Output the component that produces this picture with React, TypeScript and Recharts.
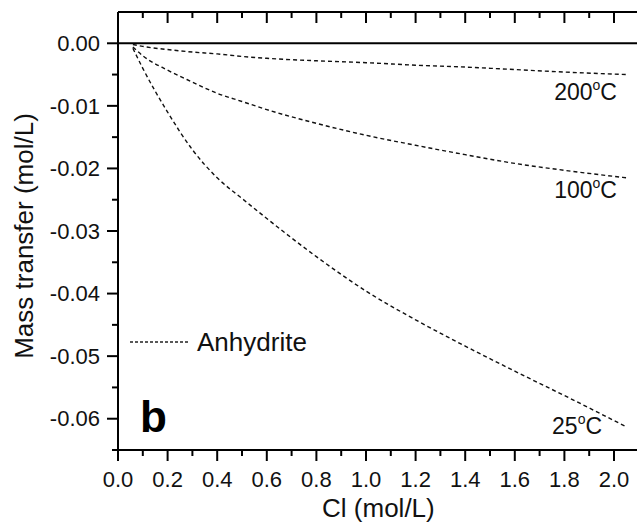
import React from "react";
import {
  LineChart,
  Line,
  XAxis,
  YAxis,
  ReferenceLine,
  ReferenceDot,
  Legend,
} from "recharts";

// Cl concentration (mol/L) and anhydrite mass transfer (mol/L)
const clValues = [0.06, 0.1, 0.2, 0.3, 0.4, 0.5, 0.6, 0.8, 1.0, 1.2, 1.4, 1.6, 1.8, 2.05];
const anhydrite25 = [
  -0.0008, -0.004, -0.011, -0.017, -0.0215, -0.0248, -0.028, -0.0341, -0.0396, -0.0442,
  -0.0484, -0.0524, -0.0563, -0.0613,
];
const anhydrite100 = [
  -0.0006, -0.002, -0.0043, -0.0062, -0.008, -0.0093, -0.0106, -0.0128, -0.0147, -0.0163,
  -0.0178, -0.0192, -0.0203, -0.0215,
];
const anhydrite200 = [
  -0.0002, -0.0005, -0.001, -0.0014, -0.0017, -0.0021, -0.0024, -0.0028, -0.0031, -0.0035,
  -0.0038, -0.0042, -0.0046, -0.005,
];

const xTicks = [
  0, 0.1, 0.2, 0.3, 0.4, 0.5, 0.6, 0.7, 0.8, 0.9, 1.0, 1.1, 1.2, 1.3, 1.4, 1.5, 1.6, 1.7,
  1.8, 1.9, 2.0, 2.1,
];
const yTicks = [
  0.005, 0, -0.005, -0.01, -0.015, -0.02, -0.025, -0.03, -0.035, -0.04, -0.045, -0.05,
  -0.055, -0.06, -0.065,
];

const tempLabels = ["200", "100", "25"];
const tempLabelX = [2.012, 2.012, 1.952];
const tempLabelY = [-0.009, -0.0248, -0.0624];

const rows = clValues.map((x, i) => ({
  x,
  t25: anhydrite25[i],
  t100: anhydrite100[i],
  t200: anhydrite200[i],
}));

const FONT = '"Liberation Sans", Arial, Helvetica, sans-serif';
const INK = "#111";
const TICK = 11;
const MINOR = 6;
const GAP_X = 10;
const GAP_Y = 7;

const isMajorX = (v: number) => Math.round(v * 10) % 2 === 0;
const isMajorY = (v: number) => Math.round(v * 1000) % 10 === 0;

const BottomTick = (props: any) => {
  const { x, y, payload } = props;
  const v = payload.value;
  const axisY = y - TICK - GAP_X;
  const major = isMajorX(v);
  return (
    <g>
      <line x1={x} x2={x} y1={axisY} y2={axisY + (major ? TICK : MINOR)} stroke="#000" strokeWidth={2} />
      {major && v <= 2.0 && (
        <text x={x} y={y} dy="0.71em" textAnchor="middle" fontSize={22} fill={INK} fontFamily={FONT}>
          {v.toFixed(1)}
        </text>
      )}
    </g>
  );
};

const TopTick = (props: any) => {
  const { x, y, payload } = props;
  const axisY = y + TICK + GAP_X;
  const major = isMajorX(payload.value);
  return (
    <line x1={x} x2={x} y1={axisY} y2={axisY + (major ? TICK : MINOR)} stroke="#000" strokeWidth={2} />
  );
};

const LeftTick = (props: any) => {
  const { x, y, payload } = props;
  const v = payload.value;
  if (v > 0) return <g />;
  const axisX = x + TICK + GAP_Y;
  const major = isMajorY(v);
  return (
    <g>
      <line x1={axisX - (major ? TICK : MINOR)} x2={axisX} y1={y} y2={y} stroke="#000" strokeWidth={2} />
      {major && (
        <text x={x} y={y} dy="0.35em" textAnchor="end" fontSize={22} fill={INK} fontFamily={FONT}>
          {v.toFixed(2)}
        </text>
      )}
    </g>
  );
};

const RightTick = (props: any) => {
  const { x, y, payload } = props;
  if (payload.value > 0) return <g />;
  const axisX = x - TICK - GAP_Y;
  const major = isMajorY(payload.value);
  return (
    <line x1={axisX - (major ? TICK : MINOR)} x2={axisX} y1={y} y2={y} stroke="#000" strokeWidth={2} />
  );
};

const YTitle = () => (
  <text
    transform="translate(33,236) rotate(-90)"
    textAnchor="middle"
    fontSize={26}
    fill={INK}
    fontFamily={FONT}
  >
    Mass transfer (mol/L)
  </text>
);

const tempLabel = (t: string) => (props: any) => {
  const { x, y } = props.viewBox;
  return (
    <text x={x} y={y} textAnchor="end" fontSize={23} fill={INK} fontFamily={FONT}>
      <tspan>{t}</tspan>
      <tspan dy={-10} fontSize={14}>o</tspan>
      <tspan dy={10}>C</tspan>
    </text>
  );
};

const LegendBox = () => (
  <div style={{ display: "flex", alignItems: "center", fontFamily: FONT }}>
    <svg width={60} height={10}>
      <line x1={0} x2={58} y1={5} y2={5} stroke="#222" strokeWidth={1.3} strokeDasharray="3 2" />
    </svg>
    <span style={{ marginLeft: 7, fontSize: 26, color: INK, lineHeight: "28px" }}>Anhydrite</span>
  </div>
);

const lineProps = {
  type: "monotone" as const,
  stroke: "#111",
  strokeWidth: 1.4,
  strokeDasharray: "4 3",
  dot: false,
  activeDot: false,
  isAnimationActive: false,
};

export default function App() {
  return (
    <div
      style={{
        position: "fixed",
        left: 0,
        top: 0,
        width: 637,
        height: 527,
        overflow: "hidden",
        background: "#fff",
        fontFamily: FONT,
      }}
    >
      <LineChart width={660} height={527} data={rows} margin={{ top: 11, right: 21.2, bottom: 0, left: 0 }}>
        <XAxis
          dataKey="x"
          type="number"
          domain={[0, 2.1]}
          allowDataOverflow
          ticks={xTicks}
          interval={0}
          height={77}
          tickSize={TICK}
          tickMargin={GAP_X}
          tickLine={false}
          tick={<BottomTick />}
          axisLine={{ stroke: "#000", strokeWidth: 2 }}
          label={{ value: "Cl (mol/L)", position: "insideBottom", offset: 10, fontSize: 26, fill: INK }}
        />
        <XAxis
          xAxisId="top"
          orientation="top"
          dataKey="x"
          type="number"
          domain={[0, 2.1]}
          allowDataOverflow
          ticks={xTicks}
          interval={0}
          height={1}
          tickSize={TICK}
          tickMargin={GAP_X}
          tickLine={false}
          tick={<TopTick />}
          axisLine={{ stroke: "#000", strokeWidth: 2 }}
        />
        <YAxis
          type="number"
          domain={[-0.065, 0.005]}
          allowDataOverflow
          ticks={yTicks}
          interval={0}
          width={118}
          tickSize={TICK}
          tickMargin={GAP_Y}
          tickLine={false}
          tick={<LeftTick />}
          axisLine={{ stroke: "#000", strokeWidth: 2 }}
          label={<YTitle />}
        />
        <YAxis
          yAxisId="right"
          orientation="right"
          type="number"
          domain={[-0.065, 0.005]}
          allowDataOverflow
          ticks={yTicks}
          interval={0}
          width={0}
          tickSize={TICK}
          tickMargin={GAP_Y}
          tickLine={false}
          tick={<RightTick />}
          axisLine={{ stroke: "#000", strokeWidth: 2 }}
        />
        <ReferenceLine y={0} stroke="#000" strokeWidth={2} />
        <Line dataKey="t200" {...lineProps} />
        <Line dataKey="t100" {...lineProps} />
        <Line dataKey="t25" {...lineProps} />
        {/* invisible copy so the mirrored top / right axes get drawn */}
        <Line xAxisId="top" yAxisId="right" dataKey="t25" {...lineProps} stroke="none" />
        {tempLabels.map((t, i) => (
          <ReferenceDot
            key={t}
            x={tempLabelX[i]}
            y={tempLabelY[i]}
            r={0}
            fill="none"
            stroke="none"
            label={{ content: tempLabel(t) }}
          />
        ))}
        <Legend
          layout="horizontal"
          verticalAlign="middle"
          align="center"
          content={<LegendBox />}
          wrapperStyle={{ left: 130, top: 328, width: 220, height: 30 }}
        />
      </LineChart>
      <div
        style={{
          position: "absolute",
          left: 140,
          top: 392,
          fontSize: 44,
          fontWeight: "bold",
          color: "#000",
          lineHeight: "50px",
        }}
      >
        b
      </div>
    </div>
  );
}
